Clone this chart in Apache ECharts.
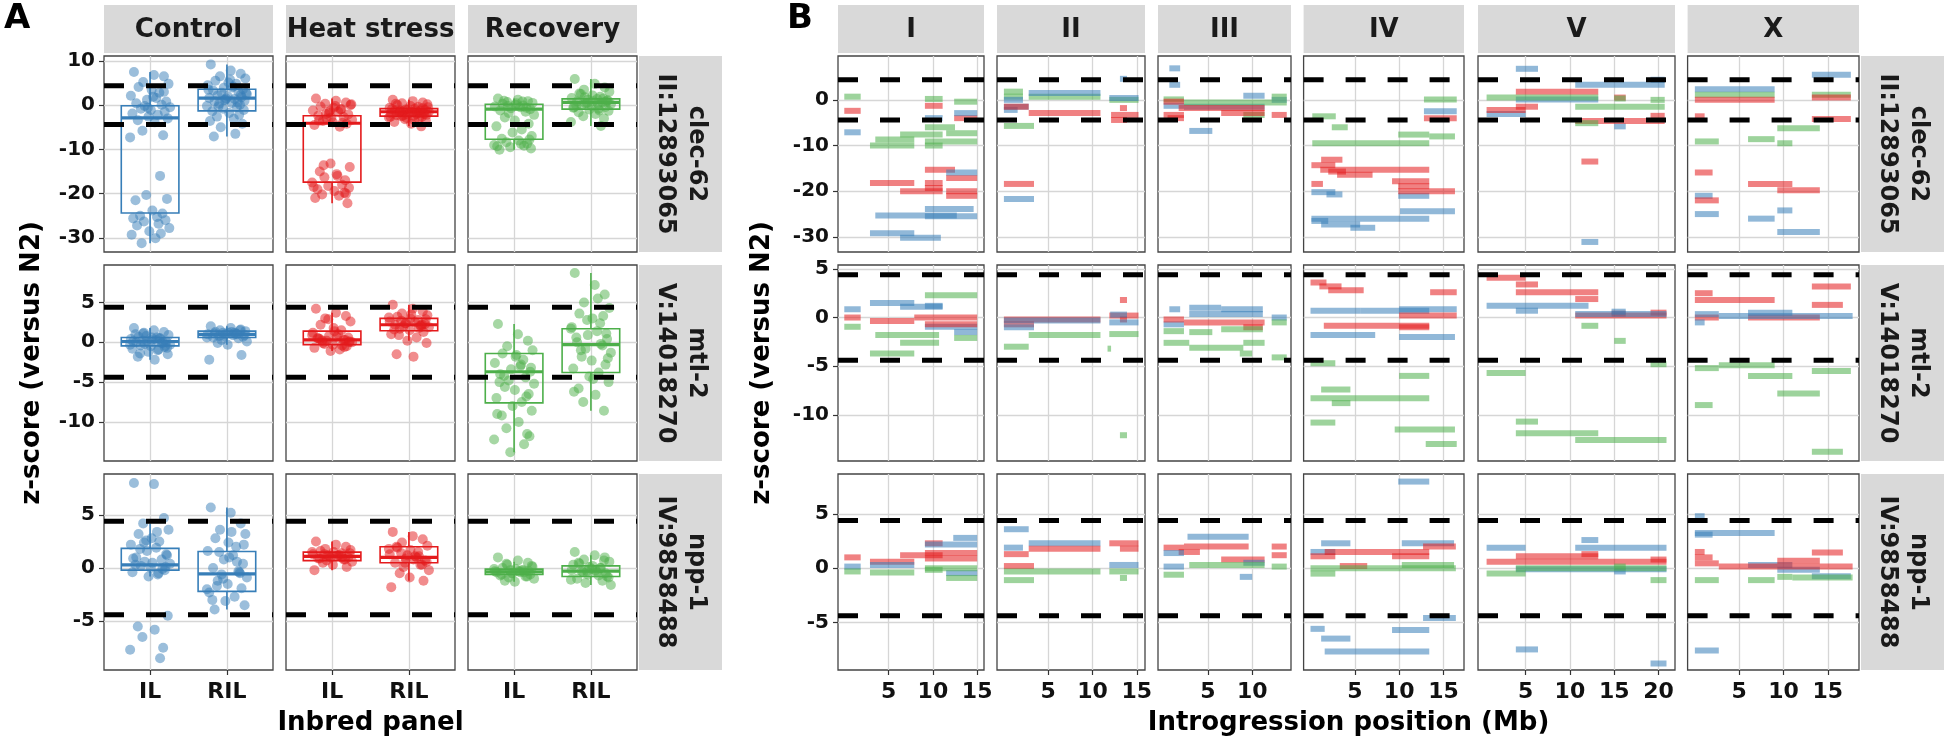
<!DOCTYPE html>
<html><head><meta charset="utf-8">
<script src="https://cdn.jsdelivr.net/npm/echarts@6/dist/echarts.min.js"></script>
<style>html,body{margin:0;padding:0;background:#fff}#c{width:1949px;height:752px}</style>
</head><body><div id="c"></div>
<script>
// ---------------- DATA ----------------
const GENE_LABELS = ['clec-62\nII:12893065', 'mtl-2\nV:14018270', 'npp-1\nIV:9858488'];
const CONDITIONS = ['Control', 'Heat stress', 'Recovery'];
const PANELS = ['IL', 'RIL'];
const CHROMS = ['I', 'II', 'III', 'IV', 'V', 'X'];
const COND_COLORS = ['#377EB8', '#E41A1C', '#4DAF4A'];
const COND_ALPHA = ['rgba(55,126,184,0.55)', 'rgba(228,26,28,0.55)', 'rgba(77,175,74,0.55)'];
const THRESHOLD = 4.4;

const A_Y_RANGE = [[-33.2, 11.1], [-14.9, 9.7], [-9.6, 8.85]];
const B_Y_RANGE = [[-33.3, 9.6], [-14.75, 5.4], [-9.4, 8.7]];
const A_Y_TICKS = [[-30, -20, -10, 0, 10], [-10, -5, 0, 5], [-5, 0, 5]];
const B_Y_TICKS = [[-30, -20, -10, 0], [-10, -5, 0, 5], [-5, 0, 5]];
const CHROM_MIN = [-0.71, -0.78, -0.63, -0.78, -0.37, -0.82];
const CHROM_MAX = [15.77, 15.93, 14.38, 17.32, 21.86, 18.52];
const CHROM_TICKS = [[5, 10, 15], [5, 10, 15], [5, 10], [5, 10, 15], [5, 10, 15, 20], [5, 10, 15]];

// horizontal jitter offsets of the points (in category units)
const JITTER = [-0.21,0.05,0.18,-0.09,0.24,-0.15,0.02,0.12,-0.25,0.08,-0.04,0.21,-0.18,0.15,-0.07,0.26,-0.12,0.01,0.19,-0.23,0.1,-0.02,0.23,-0.16,0.06,-0.1,0.17,-0.26,0.13,-0.05,0.22,-0.19,0.03,0.16,-0.13,0.09,-0.22,0.2,-0.08,0.11,-0.17,0.25,-0.01,0.14,-0.24,0.07,-0.11,0.18,-0.03,0.04];

// Panel A: z-scores per gene / condition / inbred panel
const clecControlIL = [7.5,6.8,6.5,5.2,4.8,4.1,3.5,2.8,2.1,1.6,1.2,0.8,0.4,0.1,-0.2,-0.5,-0.8,-1.1,-1.5,-1.9,-2.2,-2.6,-3.0,-3.4,-3.9,-5.8,-6.8,-7.3,-16.0,-20.3,-21.2,-21.5,-23.8,-24.5,-25.0,-25.3,-25.6,-26.0,-26.3,-26.8,-27.2,-27.8,-28.5,-29.0,-29.3,-30.1,-31.2,3.0,-0.6,1.9];
const clecControlRIL = [9.2,7.8,7.1,6.5,6.0,5.5,5.1,4.8,4.5,4.2,3.9,3.6,3.3,3.0,2.8,2.5,2.2,2.0,1.8,1.6,1.4,1.2,1.0,0.8,0.5,0.3,0.1,-0.2,-0.5,-0.8,-1.1,-1.4,-1.8,-2.2,-2.6,-3.1,-3.6,-4.2,-5.0,-6.5,-7.1,2.7,1.5,0.6,3.5,4.0,-0.3,2.3,1.1,5.8];
const clecHeatIL = [1.5,1.0,0.6,0.3,0.0,-0.3,-0.6,-0.9,-1.2,-1.5,-1.8,-2.1,-2.4,-2.7,-3.0,-3.3,-3.6,-3.9,-4.2,-4.5,-4.9,-13.2,-14.0,-15.0,-15.6,-16.3,-17.0,-17.5,-18.0,-18.3,-18.7,-19.0,-19.4,-19.8,-20.2,-20.5,-21.0,-22.2,-2.0,-1.0,-3.5,0.2,-2.8,-4.0,-18.5,-16.0,-13.6,-20.0,-1.4,-0.2];
const clecHeatRIL = [1.2,0.9,0.6,0.4,0.2,0.0,-0.2,-0.4,-0.6,-0.8,-1.0,-1.1,-1.2,-1.3,-1.4,-1.5,-1.6,-1.7,-1.8,-1.9,-2.0,-2.1,-2.2,-2.3,-2.4,-2.5,-2.6,-2.8,-3.0,-3.2,-3.5,-3.8,-4.2,-4.8,-1.5,-1.2,-0.9,-2.0,-2.4,-1.7,0.3,-0.5,-1.0,-1.8,-2.6,-3.4,-1.3,-0.7,-2.9,-1.6];
const clecRecoveryIL = [1.5,1.2,0.9,0.7,0.5,0.3,0.1,-0.1,-0.3,-0.5,-0.7,-0.9,-1.2,-1.5,-1.8,-2.2,-2.8,-3.5,-4.2,-4.8,-5.5,-6.2,-7.0,-7.6,-8.0,-8.4,-8.7,-9.0,-9.2,-9.5,-9.8,-10.1,0.4,-0.6,1.0,-8.8,-9.3,-7.8,-0.2,0.8];
const clecRecoveryRIL = [5.9,4.8,4.0,3.5,3.0,2.6,2.2,1.9,1.6,1.4,1.2,1.0,0.8,0.6,0.4,0.2,0.0,-0.2,-0.4,-0.6,-0.8,-1.0,-1.3,-1.6,-2.0,-2.5,-3.0,-3.8,-4.7,0.5,1.1,-0.1,0.9,1.5,2.5,0.3,-0.5,0.7,1.8,-1.2];

const mtlControlIL = [1.8,1.5,1.3,1.1,0.9,0.7,0.6,0.5,0.4,0.3,0.2,0.1,0.0,-0.1,-0.2,-0.3,-0.4,-0.5,-0.6,-0.8,-1.0,-1.2,-1.5,-1.8,-2.2,0.2,0.0,-0.3,0.5,0.8,-0.7,1.0,0.3,-0.1,-1.4,0.6,0.1,-0.4,1.2,-0.9];
const mtlControlRIL = [2.0,1.8,1.6,1.5,1.4,1.3,1.2,1.1,1.0,0.9,0.8,0.7,0.6,0.5,0.3,0.1,-0.1,-0.3,-1.6,-2.2,1.2,1.0,0.9,1.1,1.3,0.8,1.5,0.6,1.0,1.2];
const mtlHeatIL = [4.2,3.7,3.3,3.0,2.6,2.2,1.8,1.5,1.2,1.0,0.8,0.6,0.5,0.3,0.2,0.0,-0.1,-0.3,-0.5,-0.7,-0.9,-1.1,0.1,0.4,0.7,-0.2,0.3,0.9,-0.4,2.9,0.0,0.5,1.4,-0.6,0.2];
const mtlHeatRIL = [4.7,4.2,3.9,3.6,3.4,3.2,3.0,2.8,2.6,2.5,2.4,2.3,2.2,2.1,2.0,1.9,1.7,1.5,1.3,1.0,0.6,0.2,-0.1,-1.5,-1.8,2.7,2.2,3.1,1.8,2.4,2.9,1.6,3.5,2.0,0.9];
const mtlRecoveryIL = [2.3,1.0,0.2,-0.5,-1.0,-1.4,-1.8,-2.2,-2.6,-3.0,-3.4,-3.7,-4.0,-4.4,-4.8,-5.2,-5.6,-6.0,-6.5,-7.0,-7.5,-8.0,-8.6,-9.2,-10.0,-10.8,-11.5,-12.2,-12.8,-13.8,-3.2,-5.0,-1.6,-6.8,-4.2,-2.8,-9.0,-11.8];
const mtlRecoveryRIL = [8.7,7.2,6.0,5.0,4.3,3.6,3.0,2.4,1.9,1.4,0.9,0.4,0.0,-0.4,-0.8,-1.3,-1.8,-2.3,-2.8,-3.3,-3.8,-4.3,-5.0,-5.8,-6.6,-7.5,-8.6,1.7,-0.2,2.8,-2.0,0.6,-4.6,3.3,-1.0,5.5,-6.2,1.1];

const nppControlIL = [8.0,7.9,4.7,4.2,3.6,3.2,2.8,2.5,2.2,1.9,1.6,1.3,1.0,0.8,0.6,0.4,0.2,0.0,-0.2,-0.4,-0.6,-0.8,-4.5,-5.5,-5.8,-6.5,-7.5,-7.7,-8.5,2.6,1.2,0.3,0.5,-0.1,1.8,3.4,0.9,0.1,2.4,-0.5];
const nppControlRIL = [5.7,5.2,4.2,3.6,3.2,2.8,2.4,2.0,1.6,1.2,0.8,0.4,0.0,-0.3,-0.6,-0.9,-1.2,-1.5,-1.9,-2.3,-2.7,-3.1,-3.5,-3.9,3.4,1.5,-0.5,-2.0,0.6,-1.0,2.2,-3.0,1.0,-0.4,-1.7];
const nppHeatIL = [2.5,2.2,2.0,1.8,1.7,1.6,1.5,1.4,1.3,1.2,1.1,1.0,0.9,0.8,0.7,0.6,0.5,0.3,0.1,-0.2,1.2,1.0,1.4,0.9,1.1,1.3,0.8,1.5,1.0,1.2];
const nppHeatRIL = [3.4,3.0,2.7,2.4,2.1,1.9,1.7,1.5,1.3,1.1,0.9,0.7,0.5,0.3,0.1,-0.2,-0.5,-0.9,-1.2,-1.8,1.0,1.2,0.6,2.0,0.8,1.4,0.3,1.8,1.1,0.5];
const nppRecoveryIL = [1.0,0.7,0.5,0.3,0.1,0.0,-0.1,-0.2,-0.3,-0.4,-0.5,-0.6,-0.7,-0.8,-0.9,-1.0,-1.2,-1.3,-0.3,-0.4,-0.2,-0.5,0.2,-0.6,-0.3,0.4,-0.8,-0.1,-0.4,-0.2];
const nppRecoveryRIL = [1.5,1.2,1.0,0.8,0.6,0.4,0.2,0.0,-0.2,-0.4,-0.6,-0.8,-1.0,-1.2,-1.4,-1.6,-0.3,-0.1,-0.5,0.3,-0.7,0.1,-0.9,0.5,-0.2,-0.4,0.7,-1.1,0.0,-0.3];

// Box statistics [lower whisker, Q1, median, Q3, upper whisker]
// order: Control IL, Control RIL, Heat IL, Heat RIL, Recovery IL, Recovery RIL
const boxClec = [[-31.2,-24.4,-2.9,-0.15,7.5],[-7.1,-1.3,1.6,3.6,9.2],[-22.2,-17.4,-4.1,-2.4,1.5],[-4.8,-2.5,-1.5,-0.8,1.2],[-10.1,-7.7,-0.9,0.2,1.5],[-4.7,-0.9,0.6,1.4,5.9]];
const boxMtl = [[-2.2,-0.45,0.1,0.6,1.8],[-0.3,0.6,1.0,1.4,2.0],[-1.1,-0.3,0.3,1.4,3.7],[0.2,1.45,2.2,3.0,4.7],[-13.8,-7.6,-3.7,-1.4,2.3],[-8.6,-3.8,-0.3,1.7,8.7]];
const boxNpp = [[-0.8,-0.2,0.3,1.85,4.2],[-3.9,-2.2,-0.55,1.55,5.7],[-0.2,0.7,1.1,1.5,2.5],[-1.2,0.5,1.0,2.0,3.4],[-1.3,-0.6,-0.35,-0.1,0.6],[-1.6,-0.8,-0.3,0.2,1.2]];

// Panel B: introgression segments [start Mb, end Mb, z-score, condition (0 Control, 1 Heat, 2 Recovery)]
const clecI = [[0,1.85,0.7,2],[9.1,11.1,0.2,2],[12.4,15,-0.4,2],[9.1,12.5,-6,2],[6.3,11.1,-7.6,2],[3.5,7.9,-8.7,2],[2.9,7.9,-10,2],[9.1,15,-9.1,2],[11.5,15,-7.3,2],[9.1,11.1,-10,2],
  [0,1.85,-2.4,1],[9.1,11.1,-1.3,1],[12.4,15,-4,1],[9.1,12.5,-15.3,1],[11.5,15,-17.1,1],[2.9,7.9,-18.2,1],[9.1,11.1,-18.2,1],[6.3,11.1,-20,1],[11.5,15,-20,1],[11.5,15,-21,1],[9.1,11.1,-19.3,1],
  [0,1.85,-7.1,0],[9.1,11.1,-4,0],[12.4,15,-2.9,0],[11.5,15,-15.9,0],[3.5,12.7,-25.3,0],[9.1,14.6,-23.9,0],[9.1,15,-25.5,0],[2.9,7.9,-29.2,0],[6.3,10.9,-30.2,0]];
const clecII = [[0,2.15,1.8,2],[0,2.15,0.7,2],[2.8,10.9,0.7,2],[0,3.4,-5.7,2],[11.9,15.2,0,2],
  [0,2.15,0,0],[0,2.8,-1.5,0],[0,1.55,-2.2,0],[2.8,10.9,1.5,0],[13.1,13.9,4.6,0],[11.9,15.2,0.4,0],[0,3.4,-21.7,0],
  [0,2.8,-1.5,1],[2.8,10.9,-2.9,1],[13.1,13.9,-1.8,1],[12.1,15.2,-3.3,1],[12.1,13.9,-4.4,1],[0,3.4,-18.4,1]];
const clecIII = [[0.65,1.87,6.9,0],[0.65,1.87,3.3,0],[0,2.3,-1.3,0],[2.9,5.5,-6.8,0],[2.3,11.4,-1.5,0],[9,11.4,0.9,0],[12.2,13.9,0,0],
  [0,2.3,0.1,2],[2.3,13.9,-0.6,2],[9,11.4,-3.3,2],[12.2,13.9,0.7,2],
  [0,2.3,-0.4,1],[0,2.3,-3.3,1],[1.7,11.4,-1.8,1],[6.5,11.4,-2.9,1],[12.2,13.9,-3.3,1],[0.45,2.3,-4,1]];
const clecIV = [[0.2,2.85,-3.6,2],[2.4,4.2,-6,2],[0.2,13.4,-9.5,2],[9.9,13.4,-7.6,2],[13.4,16.3,-8,2],[12.8,16.5,0.1,2],
  [12.8,16.5,-2.5,0],[0.1,2.8,-20.2,0],[1.8,3.6,-20.7,0],[9.9,13.4,-21,0],[10.1,16.3,-24.4,0],[0.1,13.4,-26,0],[0.1,2,-26.5,0],[1.2,5.6,-27.3,0],[4.5,7.3,-28,0],
  [12.8,16.5,-4,1],[0.1,2.8,-14.3,1],[1.2,3.6,-13.1,1],[1.1,13.4,-15.3,1],[3,7,-16.4,1],[2,4,-15.7,1],[9.2,13.4,-17.8,1],[9.9,16.3,-20,1],[9.9,13.4,-18.9,1],[0.1,1.4,-18.4,1]];
const clecV = [[3.9,6.4,6.8,0],[10.6,20.7,3.3,0],[19.1,20.7,4.4,0],[3.9,13.2,0.1,0],[0.6,5,-3.1,0],[15,16.3,-5.8,0],[11.3,13.2,-31.1,0],
  [3.9,13.2,1.8,1],[3.9,6.4,-1.5,1],[0.6,5,-2.2,1],[10.6,20.7,-4.6,1],[19.1,20.7,-3.5,1],[15,16.3,0.5,1],[11.3,13.2,-13.5,1],
  [0.6,13.2,0.5,2],[10.6,20.7,-1.5,2],[19.1,20.7,0,2],[10.6,13.2,-5.1,2],[15,16.3,0.3,2]];
const clecX = [[13.2,17.6,5.5,0],[0,9,2.3,0],[0,2,-21,0],[0,2.7,-25,0],[6,9,-26,0],[9.3,11,-24.2,0],[9.3,14.1,-28.9,0],
  [0,9,1.1,2],[13.2,17.6,1.1,2],[9.3,14.1,-6.2,2],[6,9,-8.6,2],[0,2.7,-9.1,2],[9.3,11,-9.5,2],
  [0,9,0,1],[13.2,17.6,0.5,1],[0,1.1,-3.6,1],[13.2,17.6,-4.2,1],[0,2,-15.9,1],[6,11,-18.4,1],[9.3,14.1,-19.8,1],[0,2.7,-22,1]];

const mtlI = [[0,1.85,0.85,0],[2.9,7.9,1.5,0],[6.3,11.1,1.1,0],[9.1,15,-0.95,0],[12.4,15,-1.5,0],[9.1,11.1,1.2,0],
  [0,1.85,0,1],[2.9,7.9,-0.35,1],[7.9,15,0,1],[9.1,15,-0.7,1],
  [0,1.85,-0.95,2],[3.5,10.7,-1.8,2],[6.3,10.7,-2.6,2],[12.4,15,-2.1,2],[2.9,7.9,-3.7,2],[9.1,15,2.3,2]];
const mtlII = [[0,10.9,-0.2,1],[0,3.4,-0.7,1],[11.9,15.2,0.2,1],[13.1,13.9,1.8,1],[13.1,13.9,-0.2,1],
  [0,10.9,-0.3,0],[0,3.4,-1,0],[11.9,15.2,-0.5,0],[12,13.9,0.3,0],
  [2.8,10.9,-1.8,2],[0,2.8,-3,2],[11.9,15.2,-1.7,2],[11.7,12.1,-3.2,2],[13.1,13.9,-12.1,2]];
const mtlIII = [[0.65,1.87,0.85,0],[2.9,6.5,1,0],[6.5,11.2,0.85,0],[2.9,11.2,0.35,0],[0,2.3,-0.7,0],[12.2,13.9,0,0],
  [0,2.3,-0.2,1],[2.3,11.4,-0.5,1],[9,11.2,-1,1],
  [0,2.3,-1.4,2],[2.9,5.5,-1.5,2],[6.5,11.2,-1.2,2],[0,2.9,-2.6,2],[2.9,9,-3.1,2],[9,11.4,-2.6,2],[8.6,10,-3.7,2],[12.2,13.9,-4.1,2],[12.2,13.9,-0.5,2]];
const mtlIV = [[0,5.6,0.7,0],[5.6,13.4,0.7,0],[10,16.5,0.85,0],[0,7.3,-1.8,0],[10,16.3,-2,0],
  [0,1.8,3.6,1],[1,3.5,3.2,1],[2,6,2.8,1],[13.5,16.5,2.6,1],[1.5,13.4,-0.85,1],[10,16.5,0.2,1],[10,13.4,-1,1],
  [0,2.8,-4.7,2],[10,13.4,-6,2],[1.2,4.5,-7.4,2],[0,13.4,-8.3,2],[2.4,4.5,-8.8,2],[0,2.8,-10.8,2],[9.5,16.3,-11.5,2],[13,16.5,-13,2]];
const mtlV = [[0.6,5,4.1,1],[3.9,6.4,3.4,1],[3.9,13.2,2.6,1],[10.6,13.2,1.9,1],[10.6,20.9,0.2,1],[14.7,16.3,0.4,1],[19.1,20.9,0.5,1],
  [0.6,12.1,1.2,0],[3.9,6.4,0.7,0],[10.6,20.9,0.35,0],[14.7,16.3,0.6,0],
  [11.3,13.2,-0.85,2],[15,16.3,-2.4,2],[19.1,20.9,-4.8,2],[0.6,5,-5.7,2],[3.9,6.4,-10.7,2],[3.9,13.2,-11.9,2],[10.6,20.9,-12.6,2]];
const mtlX = [[13.2,17.6,3.2,1],[0,2,2.5,1],[0,9,1.8,1],[13.2,16.7,1.3,1],[6,14.1,0,1],[0,2.7,0,1],
  [0,2.7,0.35,0],[2.7,17.8,0.15,0],[6,11,0.5,0],[0,1.1,-0.5,0],
  [0,2.7,-5.2,2],[2.7,9,-4.9,2],[6,11,-6,2],[13.2,17.6,-5.5,2],[9.3,14.1,-7.8,2],[0,2,-9,2],[13.2,16.7,-13.8,2]];

const nppI = [[0,1.85,1.0,1],[2.9,7.9,0.6,1],[6.3,11.1,1.2,1],[9.1,15,1.4,1],[9.1,15,0.9,1],[9.1,11.1,2.3,1],
  [0,1.85,0.15,0],[2.9,7.9,0.3,0],[9.1,15,2.2,0],[12.3,15,2.8,0],[11.5,15,-0.45,0],
  [0,1.85,-0.3,2],[2.9,7.9,-0.4,2],[9.1,15,0,2],[11.5,15,-0.9,2],[9.1,11.1,-0.15,2]];
const nppII = [[0,2.8,3.6,0],[0,2.15,1.9,0],[2.8,10.9,2.3,0],[11.9,15.2,0.3,0],
  [0,2.8,1.3,1],[2.8,10.9,1.8,1],[0,3.4,0.2,1],[11.9,15.2,2.3,1],[13.1,15.2,1.8,1],
  [0,10.9,-0.3,2],[0,3.4,-1.1,2],[11.9,15.2,-0.3,2],[13.1,13.9,-0.9,2]];
const nppIII = [[0,2.3,1.9,1],[2.3,9.6,2.0,1],[1.7,4.1,1.5,1],[6.5,11.4,0.8,1],[12.2,13.9,2.0,1],[12.2,13.9,1.2,1],
  [0,2.3,1.4,0],[2.7,9.6,2.9,0],[9,11.4,0.5,0],[0,2.3,0.15,0],[8.6,10,-0.8,0],
  [2.9,11.4,0.3,2],[0,2.3,-0.6,2],[12.2,13.9,0.15,2]];
const nppIV = [[0,2.8,1.5,0],[1.2,4.5,2.3,0],[10.3,16.2,2.3,0],[9.9,13.4,8.0,0],[12.7,16.4,-4.6,0],[0,1.6,-5.6,0],[1.2,4.5,-6.5,0],[9.2,13.4,-5.7,0],[1.6,13.4,-7.7,0],
  [0,2.8,1.1,1],[1.6,13.4,1.5,1],[9.2,13.4,1.1,1],[12.7,16.4,2.0,1],[3.3,6.4,0.2,1],
  [0,2.8,-0.5,2],[0,16.4,0,2],[10.3,16.2,0.3,2]];
const nppV = [[0.6,5,1.9,0],[10.6,20.9,1.9,0],[11.3,13.2,2.6,0],[3.9,20.9,-0.1,0],[15,16.3,-0.3,0],[3.9,6.4,-7.5,0],[19.1,20.9,-8.8,0],
  [3.9,13.2,1.1,1],[0.6,20.9,0.6,1],[19.1,20.9,0.8,1],[11.3,13.2,1.3,1],
  [0.6,5,-0.5,2],[3.9,20.9,0,2],[15,16.3,0.15,2],[19.1,20.9,-1.1,2]];
const nppX = [[0,1.1,4.8,0],[0,9,3.25,0],[0,2,3.1,0],[6,11,0.3,0],[9.3,14.1,-0.15,0],[13.2,17.6,-0.75,0],[0,2.7,-7.6,0],
  [0,1.1,1.5,1],[0,2,1.0,1],[13.2,16.7,1.45,1],[0,2.7,0.45,1],[9.3,14.1,0.7,1],[2.7,17.8,0.15,1],
  [0,2.7,-1.1,2],[6,9,-1.1,2],[9.3,11,-0.8,2],[11,17.8,-0.85,2]];

// ---------------- TABLES BUILT FROM THE ARRAYS ----------------
const POINTS_A = [
  [[clecControlIL, clecControlRIL], [clecHeatIL, clecHeatRIL], [clecRecoveryIL, clecRecoveryRIL]],
  [[mtlControlIL, mtlControlRIL], [mtlHeatIL, mtlHeatRIL], [mtlRecoveryIL, mtlRecoveryRIL]],
  [[nppControlIL, nppControlRIL], [nppHeatIL, nppHeatRIL], [nppRecoveryIL, nppRecoveryRIL]]
];
const BOXES_A = [boxClec, boxMtl, boxNpp];
const SEGMENTS_B = [
  [clecI, clecII, clecIII, clecIV, clecV, clecX],
  [mtlI, mtlII, mtlIII, mtlIV, mtlV, mtlX],
  [nppI, nppII, nppIII, nppIV, nppV, nppX]
];

// ---------------- LAYOUT ----------------
const FONT = '"DejaVu Sans", "Liberation Sans", sans-serif';
const ROW_TOP = [56, 265, 474], ROW_H = 196;
const A_LEFT = [104, 286, 468], A_W = 169;
const B_LEFT = [838, 997, 1158, 1303.6, 1478, 1687.6];
const B_W = [146, 148, 133, 160.4, 197, 171.4];
const STRIP_TOP = 5, STRIP_H = 48;
const A_RSTRIP = 639, B_RSTRIP = 1861, RSTRIP_W = 83;

const grids = [], xAxes = [], yAxes = [], series = [], graphics = [];

function makeAxis(min, max, ticks, showLab, fontSize, margin, formatter) {
  const ax = {
    type: 'value', min: min, max: max,
    axisLine: { show: false, onZero: false },
    axisTick: { show: showLab, length: 5, lineStyle: { color: '#333', width: 1.2 }, customValues: ticks },
    axisLabel: { show: showLab, customValues: ticks, color: '#111', fontFamily: FONT, fontWeight: 'bold', fontSize: fontSize, margin: margin },
    splitLine: { show: true, lineStyle: { color: '#d6d6d6', width: 1.3 } },
    minorTick: { show: false }, minorSplitLine: { show: false }
  };
  if (formatter) ax.axisLabel.formatter = formatter;
  return ax;
}

function addGrid(left, top, width, height, xa, ya) {
  const idx = grids.length;
  grids.push({ left: left, top: top, width: width, height: height, show: true, borderColor: '#444', borderWidth: 1.3, backgroundColor: '#fff', containLabel: false });
  xa.gridIndex = idx; xa.position = 'bottom';
  ya.gridIndex = idx; ya.position = 'left';
  xAxes.push(xa); yAxes.push(ya);
  return idx;
}

function addThresholds(idx, xmin, xmax) {
  [THRESHOLD, -THRESHOLD].forEach(function (t) {
    series.push({
      type: 'line', xAxisIndex: idx, yAxisIndex: idx, z: 6, silent: true, symbol: 'none', showSymbol: false,
      data: [[xmin, t], [xmax, t]],
      lineStyle: { color: '#000', width: 5, type: [20, 22], cap: 'butt' }
    });
  });
}

// ---- Panel A ----
const panelLabel = function (v) { return v === 1 ? PANELS[0] : (v === 2 ? PANELS[1] : ''); };
for (let r = 0; r < 3; r++) {
  for (let c = 0; c < 3; c++) {
    const idx = addGrid(A_LEFT[c], ROW_TOP[r], A_W, ROW_H,
      makeAxis(0.4, 2.6, [1, 2], r === 2, 22, 11, panelLabel),
      makeAxis(A_Y_RANGE[r][0], A_Y_RANGE[r][1], A_Y_TICKS[r], c === 0, 20, 9, null));
    for (let k = 0; k < 2; k++) {
      const color = COND_COLORS[c];
      const stats = BOXES_A[r][c * 2 + k];
      series.push({
        type: 'custom', xAxisIndex: idx, yAxisIndex: idx, z: 2, silent: true,
        data: [[k + 1].concat(stats)],
        encode: { x: 0, y: [1, 2, 3, 4, 5] },
        renderItem: function (params, api) {
          const x = api.value(0);
          const lo = api.coord([x, api.value(1)]);
          const q1 = api.coord([x, api.value(2)]);
          const md = api.coord([x, api.value(3)]);
          const q3 = api.coord([x, api.value(4)]);
          const hi = api.coord([x, api.value(5)]);
          const w = api.size([0.75, 0])[0];
          const cx = lo[0];
          return { type: 'group', children: [
            { type: 'line', shape: { x1: cx, y1: hi[1], x2: cx, y2: q3[1] }, style: { stroke: color, lineWidth: 1.6 } },
            { type: 'line', shape: { x1: cx, y1: q1[1], x2: cx, y2: lo[1] }, style: { stroke: color, lineWidth: 1.6 } },
            { type: 'rect', shape: { x: cx - w / 2, y: q3[1], width: w, height: q1[1] - q3[1] }, style: { fill: 'none', stroke: color, lineWidth: 1.6 } },
            { type: 'line', shape: { x1: cx - w / 2, y1: md[1], x2: cx + w / 2, y2: md[1] }, style: { stroke: color, lineWidth: 3.2 } }
          ] };
        }
      });
      const ys = POINTS_A[r][c][k];
      series.push({
        type: 'scatter', xAxisIndex: idx, yAxisIndex: idx, z: 3, silent: true, symbolSize: 10,
        itemStyle: { color: color, opacity: 0.5 },
        data: ys.map(function (y, i) { return [k + 1 + JITTER[i % JITTER.length], y]; })
      });
    }
    addThresholds(idx, 0.4, 2.6);
  }
}

// ---- Panel B ----
for (let r = 0; r < 3; r++) {
  for (let c = 0; c < 6; c++) {
    const idx = addGrid(B_LEFT[c], ROW_TOP[r], B_W[c], ROW_H,
      makeAxis(CHROM_MIN[c], CHROM_MAX[c], CHROM_TICKS[c], r === 2, 22, 11, null),
      makeAxis(B_Y_RANGE[r][0], B_Y_RANGE[r][1], B_Y_TICKS[r], c === 0, 20, 9, null));
    series.push({
      type: 'custom', xAxisIndex: idx, yAxisIndex: idx, z: 2, silent: true, clip: true,
      data: SEGMENTS_B[r][c],
      encode: { x: [0, 1], y: 2 },
      renderItem: function (params, api) {
        const p1 = api.coord([api.value(0), api.value(2)]);
        const p2 = api.coord([api.value(1), api.value(2)]);
        return { type: 'rect', shape: { x: p1[0], y: p1[1] - 3, width: p2[0] - p1[0], height: 6 },
          style: { fill: COND_ALPHA[api.value(3)] } };
      }
    });
    addThresholds(idx, CHROM_MIN[c], CHROM_MAX[c]);
  }
}

// ---- strips and titles ----
const STRIP_FILL = '#d9d9d9';
const stripFont = 'bold 26px ' + FONT;
function colStrip(left, width, label) {
  graphics.push({ type: 'rect', silent: true, shape: { x: left, y: STRIP_TOP, width: width, height: STRIP_H }, style: { fill: STRIP_FILL } });
  graphics.push({ type: 'text', silent: true, x: left + width / 2, y: STRIP_TOP + STRIP_H / 2 + 1,
    style: { text: label, fill: '#1a1a1a', font: stripFont, textAlign: 'center', textVerticalAlign: 'middle' } });
}
function rowStrip(left, r) {
  graphics.push({ type: 'rect', silent: true, shape: { x: left, y: ROW_TOP[r], width: RSTRIP_W, height: ROW_H }, style: { fill: STRIP_FILL } });
  graphics.push({ type: 'text', silent: true, x: left + RSTRIP_W / 2, y: ROW_TOP[r] + ROW_H / 2, rotation: -Math.PI / 2,
    style: { text: GENE_LABELS[r], fill: '#1a1a1a', font: 'bold 24px ' + FONT, lineHeight: 31, textAlign: 'center', textVerticalAlign: 'middle' } });
}
for (let c = 0; c < 3; c++) colStrip(A_LEFT[c], A_W, CONDITIONS[c]);
for (let c = 0; c < 6; c++) colStrip(B_LEFT[c], B_W[c], CHROMS[c]);
for (let r = 0; r < 3; r++) { rowStrip(A_RSTRIP, r); rowStrip(B_RSTRIP, r); }

const titleFont = 'bold 26px ' + FONT;
graphics.push({ type: 'text', silent: true, x: (A_LEFT[0] + A_LEFT[2] + A_W) / 2, y: 723,
  style: { text: 'Inbred panel', fill: '#000', font: titleFont, textAlign: 'center', textVerticalAlign: 'middle' } });
graphics.push({ type: 'text', silent: true, x: (B_LEFT[0] + B_LEFT[5] + B_W[5]) / 2, y: 723,
  style: { text: 'Introgression position (Mb)', fill: '#000', font: titleFont, textAlign: 'center', textVerticalAlign: 'middle' } });
graphics.push({ type: 'text', silent: true, x: 32, y: (ROW_TOP[0] + ROW_TOP[2] + ROW_H) / 2, rotation: Math.PI / 2,
  style: { text: 'z-score (versus N2)', fill: '#000', font: titleFont, textAlign: 'center', textVerticalAlign: 'middle' } });
graphics.push({ type: 'text', silent: true, x: 762, y: (ROW_TOP[0] + ROW_TOP[2] + ROW_H) / 2, rotation: Math.PI / 2,
  style: { text: 'z-score (versus N2)', fill: '#000', font: titleFont, textAlign: 'center', textVerticalAlign: 'middle' } });
graphics.push({ type: 'text', silent: true, x: 4, y: 2,
  style: { text: 'A', fill: '#000', font: 'bold 34px ' + FONT, textAlign: 'left', textVerticalAlign: 'top' } });
graphics.push({ type: 'text', silent: true, x: 787, y: 2,
  style: { text: 'B', fill: '#000', font: 'bold 34px ' + FONT, textAlign: 'left', textVerticalAlign: 'top' } });

const chart = echarts.init(document.getElementById('c'));
chart.setOption({
  animation: false,
  backgroundColor: '#fff',
  grid: grids, xAxis: xAxes, yAxis: yAxes, series: series,
  graphic: { elements: graphics }
});
</script>
</body></html>
